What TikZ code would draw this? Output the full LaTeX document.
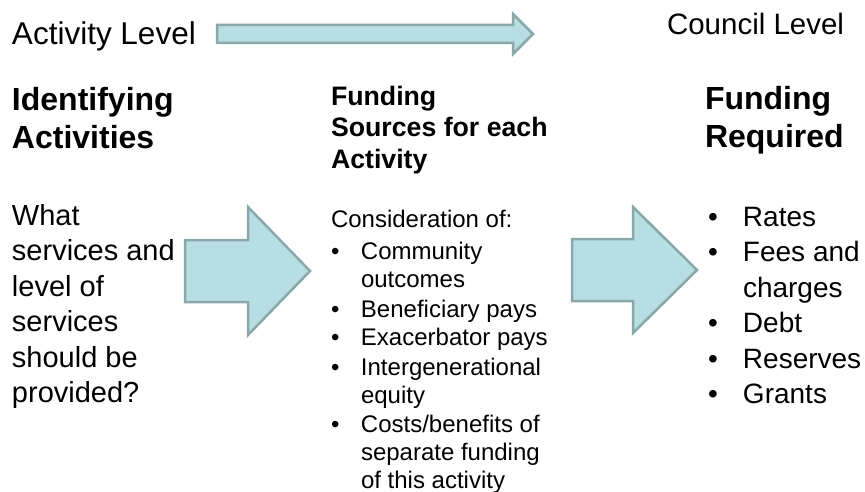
\documentclass[tikz,border=0pt]{standalone}
\usepackage{fontspec}
\setmainfont{Liberation Sans}
\usepackage{tikz}

\definecolor{arrowfill}{RGB}{183,222,226}
\definecolor{arrowline}{RGB}{138,168,170}

\newcommand{\fsz}[2]{\fontsize{#1}{#2}\selectfont}
\newcommand{\bmid}{\makebox[30pt][l]{\textbullet}}
\newcommand{\cmid}{\hspace*{30pt}}
\newcommand{\bright}{\makebox[35pt][l]{\textbullet}}
\newcommand{\cright}{\hspace*{35pt}}

% multi-line nodes: base anchor sits on the last line
\tikzset{
  blockarrow/.style={fill=arrowfill, draw=arrowline, line width=2.5pt, line join=miter},
  txt/.style={anchor=base west, inner sep=0pt, outer sep=0pt, align=left}
}

\begin{document}
\begin{tikzpicture}[x=1pt, y=-1pt]
  \useasboundingbox (0,0) rectangle (865,492);

  % level labels and the long arrow
  \node [txt, font=\fsz{31.5}{37}] (actlevel) at (12,45) {Activity Level};
  \node [txt, font=\fsz{29.5}{35}] (counlevel) at (667,35) {Council Level};
  \draw [blockarrow] (217,25) -- (513,25) -- (513,14) -- (533,34) -- (513,54)
        -- (513,43) -- (217,43) -- cycle;

  % column headings
  \node [txt, font=\bfseries\fsz{32}{38.5}] (identhead) at (12,149) {Identifying\\Activities};
  \node [txt, font=\bfseries\fsz{26.7}{31.5}] (sourcehead) at (331,168) {Funding\\Sources for each\\Activity};
  \node [txt, font=\bfseries\fsz{32}{37.5}] (reqhead) at (705,147.5) {Funding\\Required};

  % column bodies
  \node [txt, font=\fsz{29}{35.5}] (identbody) at (12,402.5)
        {What\\services and\\level of\\services\\should be\\provided?};
  \node [txt, font=\fsz{24}{28}] (sourcebody) at (331,488)
        {Consideration of:\\[4pt]
         \bmid Community\\ \cmid outcomes\\[2pt]
         \bmid Beneficiary pays\\
         \bmid Exacerbator pays\\[2pt]
         \bmid Intergenerational\\ \cmid equity\\[1pt]
         \bmid Costs/benefits of\\ \cmid separate funding\\ \cmid of this activity};
  \node [txt, font=\fsz{28}{35.5}] (reqbody) at (708,403.5)
        {\bright Rates\\ \bright Fees and\\ \cright charges\\ \bright Debt\\ \bright Reserves\\ \bright Grants};

  % big arrows between columns
  \draw [blockarrow] (185,240) -- (248,240) -- (248,207) -- (310,271) -- (248,335)
        -- (248,302) -- (185,302) -- cycle;
  \draw [blockarrow] (572,239) -- (633,239) -- (633,207) -- (697,270) -- (633,333)
        -- (633,301) -- (572,301) -- cycle;
\end{tikzpicture}
\end{document}
